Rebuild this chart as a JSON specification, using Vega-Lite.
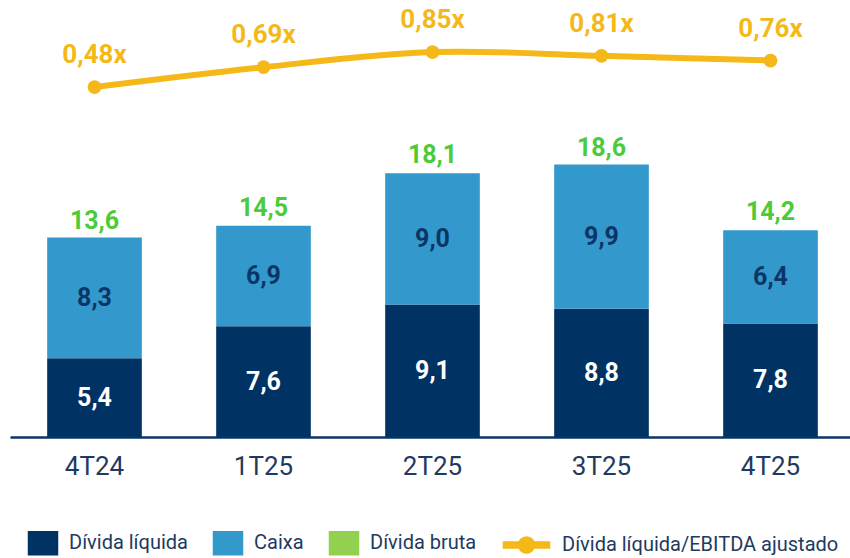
{
  "$schema": "https://vega.github.io/schema/vega-lite/v6.json",
  "width": 845,
  "height": 437,
  "autosize": {"type": "none"},
  "padding": {"left": 10, "top": 0, "right": 0, "bottom": 121},
  "background": "white",
  "config": {
    "view": {"stroke": null},
    "font": "Roboto",
    "legend": {
      "labelFont": "Roboto",
      "labelFontSize": 20,
      "labelColor": "#1F3A5F",
      "labelLimit": 500,
      "title": null
    }
  },
  "datasets": {
    "bars": [
      {"q": "4T24", "serie": "Dívida líquida", "valor": 5.4, "rotulo": "5,4"},
      {"q": "4T24", "serie": "Caixa", "valor": 8.3, "rotulo": "8,3"},
      {"q": "1T25", "serie": "Dívida líquida", "valor": 7.6, "rotulo": "7,6"},
      {"q": "1T25", "serie": "Caixa", "valor": 6.9, "rotulo": "6,9"},
      {"q": "2T25", "serie": "Dívida líquida", "valor": 9.1, "rotulo": "9,1"},
      {"q": "2T25", "serie": "Caixa", "valor": 9.0, "rotulo": "9,0"},
      {"q": "3T25", "serie": "Dívida líquida", "valor": 8.8, "rotulo": "8,8"},
      {"q": "3T25", "serie": "Caixa", "valor": 9.9, "rotulo": "9,9"},
      {"q": "4T25", "serie": "Dívida líquida", "valor": 7.8, "rotulo": "7,8"},
      {"q": "4T25", "serie": "Caixa", "valor": 6.4, "rotulo": "6,4"}
    ],
    "totais": [
      {"q": "4T24", "bruta": 13.6, "rotulo": "13,6"},
      {"q": "1T25", "bruta": 14.5, "rotulo": "14,5"},
      {"q": "2T25", "bruta": 18.1, "rotulo": "18,1"},
      {"q": "3T25", "bruta": 18.6, "rotulo": "18,6"},
      {"q": "4T25", "bruta": 14.2, "rotulo": "14,2"}
    ],
    "ratio": [
      {"q": "4T24", "serie": "Dívida líquida/EBITDA ajustado", "r": 0.48, "rotulo": "0,48x"},
      {"q": "1T25", "serie": "Dívida líquida/EBITDA ajustado", "r": 0.69, "rotulo": "0,69x"},
      {"q": "2T25", "serie": "Dívida líquida/EBITDA ajustado", "r": 0.85, "rotulo": "0,85x"},
      {"q": "3T25", "serie": "Dívida líquida/EBITDA ajustado", "r": 0.81, "rotulo": "0,81x"},
      {"q": "4T25", "serie": "Dívida líquida/EBITDA ajustado", "r": 0.76, "rotulo": "0,76x"}
    ]
  },
  "layer": [
    {
      "layer": [
        {
          "data": {"name": "bars"},
          "mark": {"type": "bar"},
          "encoding": {
            "x": {
              "field": "q", "type": "nominal", "sort": null,
              "scale": {"paddingInner": 0.44, "paddingOuter": 0.22},
              "axis": {
                "title": null, "labelAngle": 0, "ticks": false,
                "labelFont": "Roboto", "labelFontSize": 26, "labelColor": "#1F3A5F",
                "labelPadding": 16, "domainColor": "#0B3566", "domainWidth": 2.5
              }
            },
            "y": {
              "field": "valor", "type": "quantitative", "stack": "zero",
              "scale": {"domain": [0, 30], "nice": false},
              "axis": null
            },
            "order": {"field": "serie", "sort": "descending"},
            "color": {
              "field": "serie", "type": "nominal",
              "scale": {
                "domain": ["Dívida líquida", "Caixa", "Dívida bruta", "Dívida líquida/EBITDA ajustado"],
                "range": ["#003263", "#3399CC", "#92D050", "#F4B918"]
              },
              "legend": {
                "orient": "none",
                "direction": "horizontal",
                "legendX": 22,
                "legendY": 532,
                "symbolSize": 400,
                "labelOffset": 15,
                "columnPadding": 22,
                "encode": {
                  "symbols": {
                    "update": {
                      "shape": {"signal": "datum.value == 'Dívida líquida/EBITDA ajustado' ? 'M-0.65,-0.3H3.95V0.3H-0.65Z M1.65,-0.8A0.8,0.8 0 1,1 1.65,0.8A0.8,0.8 0 1,1 1.65,-0.8Z' : 'M-1.45,-1.15H1.45V1.15H-1.45Z'"},
                      "fill": {"scale": "color", "field": "value"},
                      "stroke": {"value": "transparent"},
                      "opacity": {"value": 1}
                    }
                  },
                  "labels": {
                    "update": {
                      "dx": {"signal": "datum.value == 'Dívida líquida/EBITDA ajustado' ? 26 : 0"}
                    }
                  }
                }
              }
            }
          }
        },
        {
          "data": {"name": "bars"},
          "transform": [
            {"stack": "valor", "groupby": ["q"], "sort": [{"field": "serie", "order": "descending"}], "as": ["v0", "v1"]},
            {"calculate": "(datum.v0 + datum.v1) / 2", "as": "meio"}
          ],
          "mark": {"type": "text", "font": "Roboto", "fontWeight": "bold", "fontSize": 25, "baseline": "middle"},
          "encoding": {
            "x": {"field": "q", "type": "nominal", "sort": null},
            "y": {"field": "meio", "type": "quantitative"},
            "text": {"field": "rotulo"},
            "color": {
              "condition": {"test": "datum.serie == 'Caixa'", "value": "#0B3566"},
              "value": "white"
            }
          }
        },
        {
          "data": {"name": "totais"},
          "mark": {"type": "text", "font": "Roboto", "fontWeight": "bold", "fontSize": 25, "baseline": "alphabetic", "dy": -10, "color": "#4CCB3A"},
          "encoding": {
            "x": {"field": "q", "type": "nominal", "sort": null},
            "y": {"field": "bruta", "type": "quantitative"},
            "text": {"field": "rotulo"}
          }
        }
      ]
    },
    {
      "data": {"name": "ratio"},
      "layer": [
        {
          "mark": {"type": "line", "strokeWidth": 6, "interpolate": "cardinal"},
          "encoding": {
            "x": {"field": "q", "type": "nominal", "sort": null},
            "y": {
              "field": "r", "type": "quantitative",
              "scale": {"domain": [-3.22, 1.4], "nice": false, "zero": false},
              "axis": null
            },
            "color": {
              "field": "serie", "type": "nominal",
              "scale": {
                "domain": ["Dívida líquida", "Caixa", "Dívida bruta", "Dívida líquida/EBITDA ajustado"],
                "range": ["#003263", "#3399CC", "#92D050", "#F4B918"]
              }
            }
          }
        },
        {
          "mark": {"type": "point", "filled": true, "size": 190, "opacity": 1, "color": "#F4B918"},
          "encoding": {
            "x": {"field": "q", "type": "nominal", "sort": null},
            "y": {"field": "r", "type": "quantitative"}
          }
        },
        {
          "mark": {"type": "text", "font": "Roboto", "fontWeight": "bold", "fontSize": 26, "baseline": "alphabetic", "dy": -24, "color": "#F4B918"},
          "encoding": {
            "x": {"field": "q", "type": "nominal", "sort": null},
            "y": {"field": "r", "type": "quantitative"},
            "text": {"field": "rotulo"}
          }
        }
      ]
    }
  ],
  "resolve": {"scale": {"y": "independent"}}
}
